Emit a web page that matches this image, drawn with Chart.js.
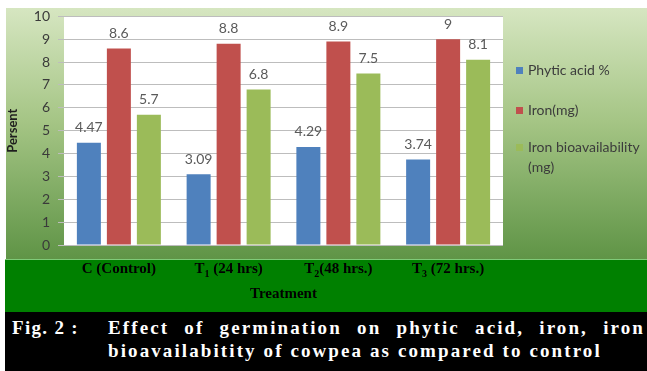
<!DOCTYPE html>
<html>
  <head>
    <meta charset="utf-8">
    <title>Effect of germination on cowpea</title>
    <script src="https://cdn.jsdelivr.net/npm/chart.js@4.4.1/dist/chart.umd.min.js"></script>
    <style>
      body { margin: 0; background: #fff; }
      #wrap { position: relative; width: 647px; height: 371px; overflow: hidden; }
      #myChart { position: absolute; left: 0; top: 0; }
      .leg { position: absolute; left: 528px; font: 14px Lato, sans-serif; color: #3c3c3c; line-height: 20px; }
      .leg i { position: absolute; left: -12px; top: 7px; width: 7px; height: 7px; }
      #caption { position: absolute; left: 5px; top: 312px; width: 642px; height: 59px; background: #000;
                 color: #fff; font: bold 19px "Liberation Serif", "Times New Roman", serif; letter-spacing: 2.1px; }
      #caption div { position: absolute; white-space: nowrap; line-height: 22px; }
    </style>
  </head>
  <body>
    <div id="wrap">
      <canvas id="myChart" width="647" height="312"></canvas>
      <div id="legend"></div>
      <div id="caption">
        <div style="left: 7px; top: 5px; letter-spacing: 1.3px;">Fig. 2 :</div>
        <div style="left: 103px; top: 5px; width: 537px; text-align: justify; text-align-last: justify; white-space: normal;">Effect of germination on phytic acid, iron, iron</div>
        <div style="left: 103px; top: 28px;">bioavailabitity of cowpea as compared to control</div>
      </div>
    </div>

    <script>
      // chart data
      var categories = ['C (Control)', 'T1 (24 hrs)', 'T2(48 hrs.)', 'T3 (72 hrs.)'];
      var phyticAcid = [4.47, 3.09, 4.29, 3.74];
      var iron = [8.6, 8.8, 8.9, 9];
      var ironBio = [5.7, 6.8, 7.5, 8.1];
      var seriesNames = ['Phytic acid %', 'Iron(mg)', ['Iron bioavailability', '(mg)']];
      var seriesColors = ['#4f81bd', '#c0504d', '#9bbb59'];
      var yMin = 0, yMax = 10, yStep = 1;
      var xTitle = 'Treatment';
      var yTitle = 'Persent';

      // backgrounds, value labels and the category labels with subscripts
      var decor = {
        id: 'decor',
        beforeDraw: function(chart) {
          var ctx = chart.ctx, a = chart.chartArea;
          ctx.save();
          var g = ctx.createLinearGradient(0, 8, 0, 259);
          g.addColorStop(0, '#d6e6c1');
          g.addColorStop(0.45, '#a5c585');
          g.addColorStop(1, '#5f9446');
          ctx.fillStyle = g;
          ctx.fillRect(6, 8, 641, 251);
          ctx.fillStyle = '#008000';
          ctx.fillRect(5, 259, 642, 53);
          ctx.fillStyle = '#7fcb78';
          ctx.fillRect(5, 259, 642, 1);
          ctx.fillStyle = '#ffffff';
          ctx.fillRect(a.left, a.top, a.right - a.left, a.bottom - a.top);
          ctx.restore();
        },
        afterDatasetsDraw: function(chart) {
          var ctx = chart.ctx;
          ctx.save();
          ctx.font = '14px Lato, sans-serif';
          ctx.fillStyle = '#5a5a5a';
          ctx.textAlign = 'center';
          ctx.textBaseline = 'middle';
          chart.data.datasets.forEach(function(ds, i) {
            chart.getDatasetMeta(i).data.forEach(function(bar, j) {
              ctx.fillText(String(ds.data[j]), bar.x, bar.y - 15);
            });
          });
          ctx.restore();
        },
        afterDraw: function(chart) {
          var ctx = chart.ctx, xs = chart.scales.x, a = chart.chartArea;
          var big = 'bold 15px "Liberation Serif", serif', small = 'bold 10px "Liberation Serif", serif';
          ctx.save();
          ctx.fillStyle = '#000';
          ctx.textBaseline = 'alphabetic';
          ctx.textAlign = 'left';
          categories.forEach(function(lab, i) {
            var m = lab.match(/^T(\d)(.*)$/);
            var parts = m ? [['T', big, 0], [m[1], small, 4], [m[2], big, 0]] : [[lab, big, 0]];
            var w = 0;
            parts.forEach(function(p) { ctx.font = p[1]; w += ctx.measureText(p[0]).width; });
            var x = xs.getPixelForValue(i) - w / 2;
            parts.forEach(function(p) {
              ctx.font = p[1];
              ctx.fillText(p[0], x, 273 + p[2]);
              x += ctx.measureText(p[0]).width;
            });
          });
          ctx.font = big;
          ctx.textAlign = 'center';
          ctx.fillText(xTitle, (a.left + a.right) / 2, 298);
          ctx.restore();
        }
      };

      var ctx = document.getElementById('myChart').getContext('2d');
      var chart = new Chart(ctx, {
        type: 'bar',
        data: {
          labels: categories,
          datasets: [
            { label: 'Phytic acid %', data: phyticAcid, backgroundColor: seriesColors[0] },
            { label: 'Iron(mg)', data: iron, backgroundColor: seriesColors[1] },
            { label: 'Iron bioavailability (mg)', data: ironBio, backgroundColor: seriesColors[2] }
          ]
        },
        options: {
          responsive: false,
          animation: false,
          devicePixelRatio: 1,
          categoryPercentage: 0.82,
          barPercentage: 0.8,
          layout: { padding: { left: 0, top: 13, right: 144, bottom: 67 } },
          plugins: { legend: { display: false }, tooltip: { enabled: false } },
          scales: {
            x: { display: false },
            y: {
              min: yMin, max: yMax,
              afterFit: function(s) { s.width = 64; },
              ticks: { stepSize: yStep, padding: 8, color: '#3a3a3a', font: { family: 'Lato', size: 14 } },
              grid: { color: '#bdbdbd', tickLength: 6 },
              border: { display: false },
              title: { display: true, text: yTitle, color: '#1e1e1e', padding: { top: 5, bottom: 0 },
                       font: { family: 'Lato', size: 13, weight: 'bold' } }
            }
          }
        },
        plugins: [decor]
      });

      // legend from the series names and colours
      var legendTops = [60, 100, 137];
      var lg = document.getElementById('legend');
      seriesNames.forEach(function(name, i) {
        var d = document.createElement('div');
        d.className = 'leg';
        d.style.top = legendTops[i] + 'px';
        d.innerHTML = '<i style="background:' + seriesColors[i] + '"></i>' + [].concat(name).join('<br>');
        lg.appendChild(d);
      });
    </script>
  </body>
</html>
